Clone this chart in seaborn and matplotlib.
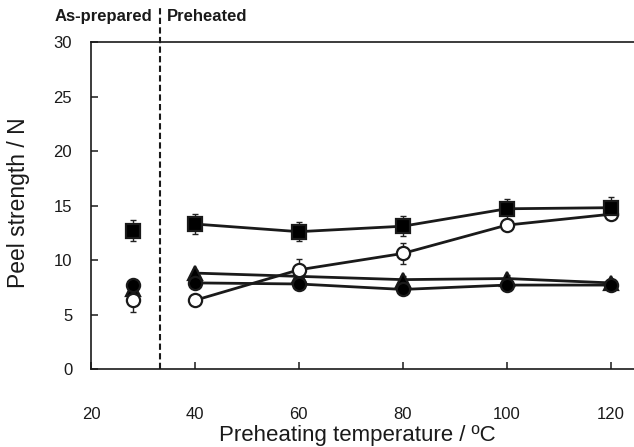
import numpy as np
import pandas as pd
import matplotlib
matplotlib.use("Agg")
import matplotlib.pyplot as plt
import seaborn as sns

# data
as_prepared_temp = 28
preheat_temps = [40, 60, 80, 100, 120]

square_asprep = 12.7
square_asprep_err = 1.0
square_vals = [13.3, 12.6, 13.1, 14.7, 14.8]
square_err = [0.9, 0.9, 0.9, 0.9, 1.0]

open_asprep = 6.3
open_asprep_err = 1.1
open_vals = [6.3, 9.1, 10.6, 13.2, 14.2]
open_err = [0.3, 1.0, 1.0, 0.4, 0.4]

fcircle_asprep = 7.7
fcircle_asprep_err = 0.3
fcircle_vals = [7.9, 7.8, 7.3, 7.7, 7.7]
fcircle_err = [0.3, 0.3, 0.3, 0.3, 0.3]

tri_asprep = 7.3
tri_asprep_err = 0.3
tri_vals = [8.8, 8.5, 8.2, 8.3, 7.9]
tri_err = [0.3, 0.3, 0.3, 0.3, 0.3]

sns.set_theme(style="ticks")
plt.rcParams['font.family'] = ['Liberation Sans', 'DejaVu Sans']

fig = plt.figure(figsize=(6.34, 4.47), dpi=100)
ax = fig.add_axes([0.1435, 0.1745, 0.8565, 0.7315])

series = [
    ('triangle', '^', 'black', tri_asprep, tri_asprep_err, tri_vals, tri_err),
    ('filled circle', 'o', 'black', fcircle_asprep, fcircle_asprep_err, fcircle_vals, fcircle_err),
    ('open circle', 'o', 'white', open_asprep, open_asprep_err, open_vals, open_err),
    ('square', 's', 'black', square_asprep, square_asprep_err, square_vals, square_err),
]

for name, mk, face, a0, e0, vals, errs in series:
    df = pd.DataFrame({'temp': preheat_temps, 'peel': vals})
    ax.errorbar([as_prepared_temp] + preheat_temps, [a0] + vals, yerr=[e0] + errs,
                fmt='none', ecolor='#222222', elinewidth=1, capsize=2.5, capthick=1, zorder=2)
    sns.lineplot(data=df, x='temp', y='peel', ax=ax, color='#1a1a1a', lw=2,
                 marker=mk, markersize=9.5, markerfacecolor=face,
                 markeredgecolor='#1a1a1a', markeredgewidth=1.6, zorder=3)
    ax.plot([as_prepared_temp], [a0], marker=mk, ls='none', markersize=9.5,
            mfc=face, mec='#1a1a1a', mew=1.6, zorder=3)

ax.axvline(33.3, ymin=0, ymax=33.2 / 30, color='#1a1a1a', lw=1.5,
           ls=(0, (3, 1.6)), clip_on=False, zorder=4)
ax.text(31.8, 32.3, 'As-prepared', ha='right', va='center', fontsize=12,
        fontweight='bold', color='#1a1a1a')
ax.text(34.7, 32.3, 'Preheated', ha='left', va='center', fontsize=12,
        fontweight='bold', color='#1a1a1a')

ax.set_xlim(20, 124.5)
ax.set_ylim(0, 30)
ax.set_xticks([20, 40, 60, 80, 100, 120])
ax.set_yticks([0, 5, 10, 15, 20, 25, 30])

for s in ['left', 'bottom', 'top']:
    ax.spines[s].set_color('#1a1a1a')
    ax.spines[s].set_linewidth(1.2)
ax.spines['right'].set_visible(False)

ax.tick_params(axis='x', direction='in', length=5, width=1.1, pad=27.5, labelsize=12,
               colors='#1a1a1a', bottom=True)
ax.tick_params(axis='y', direction='in', length=5, width=1.1, pad=13.5, labelsize=12,
               colors='#1a1a1a', left=True)

ax.set_xlabel('Preheating temperature / ºC', fontsize=16, color='#1a1a1a')
ax.set_ylabel('Peel strength / N', fontsize=16.5, color='#1a1a1a')
ax.xaxis.set_label_coords(0.49, -0.171)
ax.yaxis.set_label_coords(-0.112, 0.508)

fig.savefig('out.png', dpi=100)
